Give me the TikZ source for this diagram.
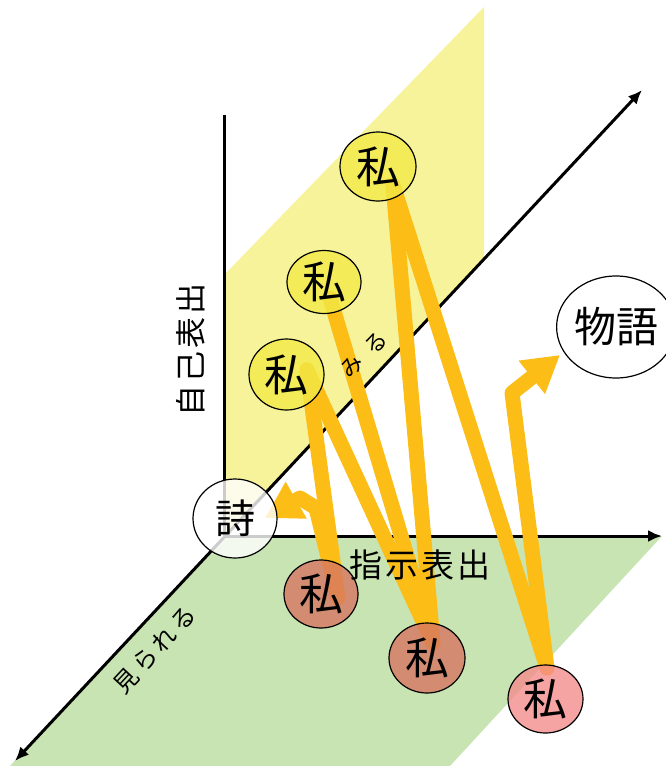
\documentclass[tikz,border=0pt]{standalone}
\usepackage{fontspec}
\newfontfamily\jp{Noto Sans CJK JP}
\usetikzlibrary{arrows.meta,shapes.geometric}
\definecolor{planeY}{RGB}{247,243,155}
\definecolor{planeG}{RGB}{200,228,178}
\definecolor{nodeY}{RGB}{243,233,70}
\definecolor{nodeR}{RGB}{214,118,98}
\definecolor{nodeP}{RGB}{244,140,140}
\definecolor{amber}{RGB}{251,189,22}
\pgfdeclarelayer{back}
\pgfdeclarelayer{mid}
\pgfsetlayers{back,mid,main}
\begin{document}
\begin{tikzpicture}[x=1pt,y=-1pt,
  me/.style={ellipse,draw=black,line width=1.2pt,fill opacity=0.8,text opacity=1,inner sep=0pt,font=\jp\fontsize{44}{44}\selectfont},
  axis/.style={draw=black,line width=3pt},
  axtip/.style={-{Latex[length=14pt,width=12pt]}},
  amb/.style={draw=amber,line width=15pt,line cap=round,line join=round},
  ambtip/.style={-{Triangle[length=36pt,width=40pt]}},
  lab/.style={inner sep=0pt,text=black}]
\useasboundingbox (0,0) rectangle (665,766);
% nodes
\node[me,fill=nodeY,minimum width=76pt,minimum height=69pt] (yt) at (378,166.5) {私};
\node[me,fill=nodeY,minimum width=74pt,minimum height=63pt] (ym) at (324,282) {私};
\node[me,fill=nodeY,minimum width=75pt,minimum height=71pt] (yl) at (286.5,374.5) {私};
\node[me,fill=white,minimum width=84pt,minimum height=79pt,font=\jp\fontsize{40}{40}\selectfont] (shi) at (235,518.5) {詩};
\node[me,fill=nodeR,minimum width=74pt,minimum height=68pt] (r1) at (321,594) {私};
\node[me,fill=nodeR,minimum width=76pt,minimum height=70pt] (r2) at (427,658) {私};
\node[me,fill=nodeP,minimum width=75pt,minimum height=68pt] (r3) at (545.5,699) {私};
\node[me,fill=white,fill opacity=1,minimum width=100pt,minimum height=102pt,font=\jp\fontsize{42}{42}\selectfont] (story) at (616,327) {物語};
% labels
\node[lab,rotate=90,font=\jp\fontsize{31}{31}\selectfont] (selfexp) at (191,350) {自\hspace{3pt}己\hspace{3pt}表\hspace{3pt}出};
\node[lab,font=\jp\fontsize{33}{33}\selectfont] (indexp) at (420,565) {指\hspace{3pt}示\hspace{3pt}表\hspace{3pt}出};
\node[lab,rotate=47,font=\jp\fontsize{24}{24}\selectfont] (seen) at (155,650) {見\hspace{4pt}ら\hspace{4pt}れ\hspace{4pt}る};
\node[lab,rotate=44,font=\jp\fontsize{22}{22}\selectfont] (see) at (364,355) {み\hspace{12pt}る};
% coordinates
\coordinate (O) at (224,536);
\coordinate (VT) at (224,115);
\coordinate (HR) at (662,536);
\coordinate (DT) at (642,90);
\coordinate (DB) at (15,761);
\coordinate (yt-o) at (393,185);
\coordinate (ym-o) at (330,298);
\coordinate (yl-o) at (307,370);
\coordinate (r1-i) at (338,598);
\coordinate (r2-i) at (433,643);
\coordinate (r3-i) at (547,668);
\coordinate (bend1) at (512,393);
\coordinate (tip1) at (560,355);
\coordinate (bend2) at (316,508);
\coordinate (knee2) at (300,498);
\coordinate (tip2) at (265,518);
\begin{pgfonlayer}{back}
  \fill[planeY] (224,275) -- (484,7) -- (484,259) -- (O) -- cycle;
  \fill[planeG] (O) -- (HR) -- (450,766) -- (10,766) -- cycle;
  \draw[axis] (VT) -- (O);
  \draw[axis,axtip] (O) -- (HR);
  \draw[axis,{Latex[length=14pt,width=12pt]}-{Latex[length=14pt,width=12pt]}] (DB) -- (DT);
\end{pgfonlayer}
\begin{pgfonlayer}{mid}
  \draw[amb] (yl-o) -- (r1-i);
  \draw[amb] (yl-o) -- (r2-i);
  \draw[amb] (ym-o) -- (r2-i);
  \draw[amb] (yt-o) -- (r2-i);
  \draw[amb] (yt-o) -- (r3-i);
  \draw[amb,ambtip] (r3-i) -- (bend1) -- (tip1);
  \draw[amb,ambtip] (r1-i) -- (bend2) -- (knee2) -- (tip2);
\end{pgfonlayer}
\end{tikzpicture}
\end{document}
